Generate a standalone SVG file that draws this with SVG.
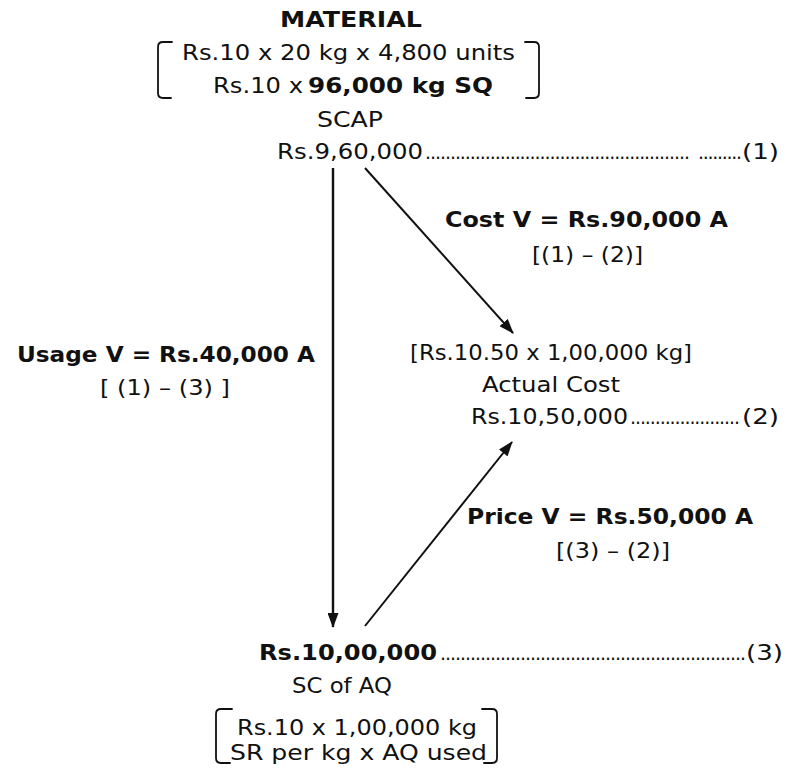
<svg xmlns="http://www.w3.org/2000/svg" width="787" height="771" viewBox="0 0 787 771">
  <style>
    text { font-family: "DejaVu Sans", "Liberation Sans", sans-serif; font-size: 22px; fill: #111; }
    .b { font-weight: bold; }
    .dots { font-size: 19px; }
    .brk { fill: none; stroke: #111; stroke-width: 1.8; stroke-linejoin: round; stroke-linecap: round; }
    .conn { stroke: #111; fill: none; }
  </style>
  <defs>
    <marker id="head" viewBox="0 0 15 11" refX="14" refY="5.5" markerWidth="15" markerHeight="11" orient="auto" markerUnits="userSpaceOnUse">
      <path d="M0,0 L15,5.5 L0,11 z" fill="#111"/>
    </marker>
  </defs>
  <rect width="787" height="771" fill="#fff"/>

  <!-- standard cost of actual production -->
  <g id="scap">
    <text class="b" x="280" y="27" textLength="142" lengthAdjust="spacingAndGlyphs">MATERIAL</text>
    <path class="brk" d="M172,42 L163,42 Q158,42 158,47 L158,93 Q158,98 163,98 L171,98"/>
    <path class="brk" d="M525,42 L534,42 Q539,42 539,47 L539,93 Q539,98 534,98 L526,98"/>
    <text x="182" y="60" textLength="333" lengthAdjust="spacingAndGlyphs">Rs.10 x 20 kg x 4,800 units</text>
    <text x="213" y="93" textLength="90" lengthAdjust="spacingAndGlyphs">Rs.10 x</text>
    <text class="b" x="308" y="93" textLength="185" lengthAdjust="spacingAndGlyphs">96,000 kg SQ</text>
    <text x="317" y="127" textLength="66" lengthAdjust="spacingAndGlyphs">SCAP</text>
    <text x="277" y="159" textLength="146" lengthAdjust="spacingAndGlyphs">Rs.9,60,000</text>
    <text class="dots" x="425" y="159" textLength="265" lengthAdjust="spacing">.....................................................</text>
    <text class="dots" x="698" y="159" textLength="44" lengthAdjust="spacing">.........</text>
    <text x="742" y="159" textLength="37" lengthAdjust="spacingAndGlyphs">(1)</text>
  </g>

  <!-- actual cost -->
  <g id="actual">
    <text x="410" y="360" textLength="282" lengthAdjust="spacingAndGlyphs">[Rs.10.50 x 1,00,000 kg]</text>
    <text x="482" y="392" textLength="138" lengthAdjust="spacingAndGlyphs">Actual Cost</text>
    <text x="471" y="424" textLength="157" lengthAdjust="spacingAndGlyphs">Rs.10,50,000</text>
    <text class="dots" x="630" y="424" textLength="110" lengthAdjust="spacing">......................</text>
    <text x="742" y="424" textLength="37" lengthAdjust="spacingAndGlyphs">(2)</text>
  </g>

  <!-- standard cost of actual quantity -->
  <g id="scaq">
    <text class="b" x="259" y="660" textLength="178" lengthAdjust="spacingAndGlyphs">Rs.10,00,000</text>
    <text class="dots" x="440" y="660" textLength="306" lengthAdjust="spacing">.............................................................</text>
    <text x="746" y="660" textLength="37" lengthAdjust="spacingAndGlyphs">(3)</text>
    <text x="292" y="693" textLength="100" lengthAdjust="spacingAndGlyphs">SC of AQ</text>
    <path class="brk" d="M232,709 L221,709 Q216,709 216,714 L216,758 Q216,763 221,763 L230,763"/>
    <path class="brk" d="M482,709 L492,709 Q497,709 497,714 L497,758 Q497,763 492,763 L484,763"/>
    <text x="237" y="735" textLength="240" lengthAdjust="spacingAndGlyphs">Rs.10 x 1,00,000 kg</text>
    <text x="230" y="760" textLength="257" lengthAdjust="spacingAndGlyphs">SR per kg x AQ used</text>
  </g>

  <!-- variance labels -->
  <g id="cost-variance">
    <text class="b" x="445" y="227" textLength="283" lengthAdjust="spacingAndGlyphs">Cost V = Rs.90,000 A</text>
    <text x="532" y="262" textLength="111" lengthAdjust="spacingAndGlyphs">[(1) – (2)]</text>
  </g>
  <g id="usage-variance">
    <text class="b" x="17" y="362" textLength="298" lengthAdjust="spacingAndGlyphs">Usage V = Rs.40,000 A</text>
    <text x="100" y="395" textLength="130" lengthAdjust="spacingAndGlyphs">[ (1) – (3) ]</text>
  </g>
  <g id="price-variance">
    <text class="b" x="467" y="524" textLength="286" lengthAdjust="spacingAndGlyphs">Price V = Rs.50,000 A</text>
    <text x="556" y="558" textLength="114" lengthAdjust="spacingAndGlyphs">[(3) – (2)]</text>
  </g>

  <!-- connectors -->
  <g id="connectors">
    <line class="conn" stroke-width="2.4" x1="333" y1="168" x2="333" y2="627" marker-end="url(#head)"/>
    <line class="conn" stroke-width="2" x1="365" y1="168" x2="513" y2="333" marker-end="url(#head)"/>
    <line class="conn" stroke-width="2" x1="365" y1="626" x2="512" y2="442" marker-end="url(#head)"/>
  </g>
</svg>
